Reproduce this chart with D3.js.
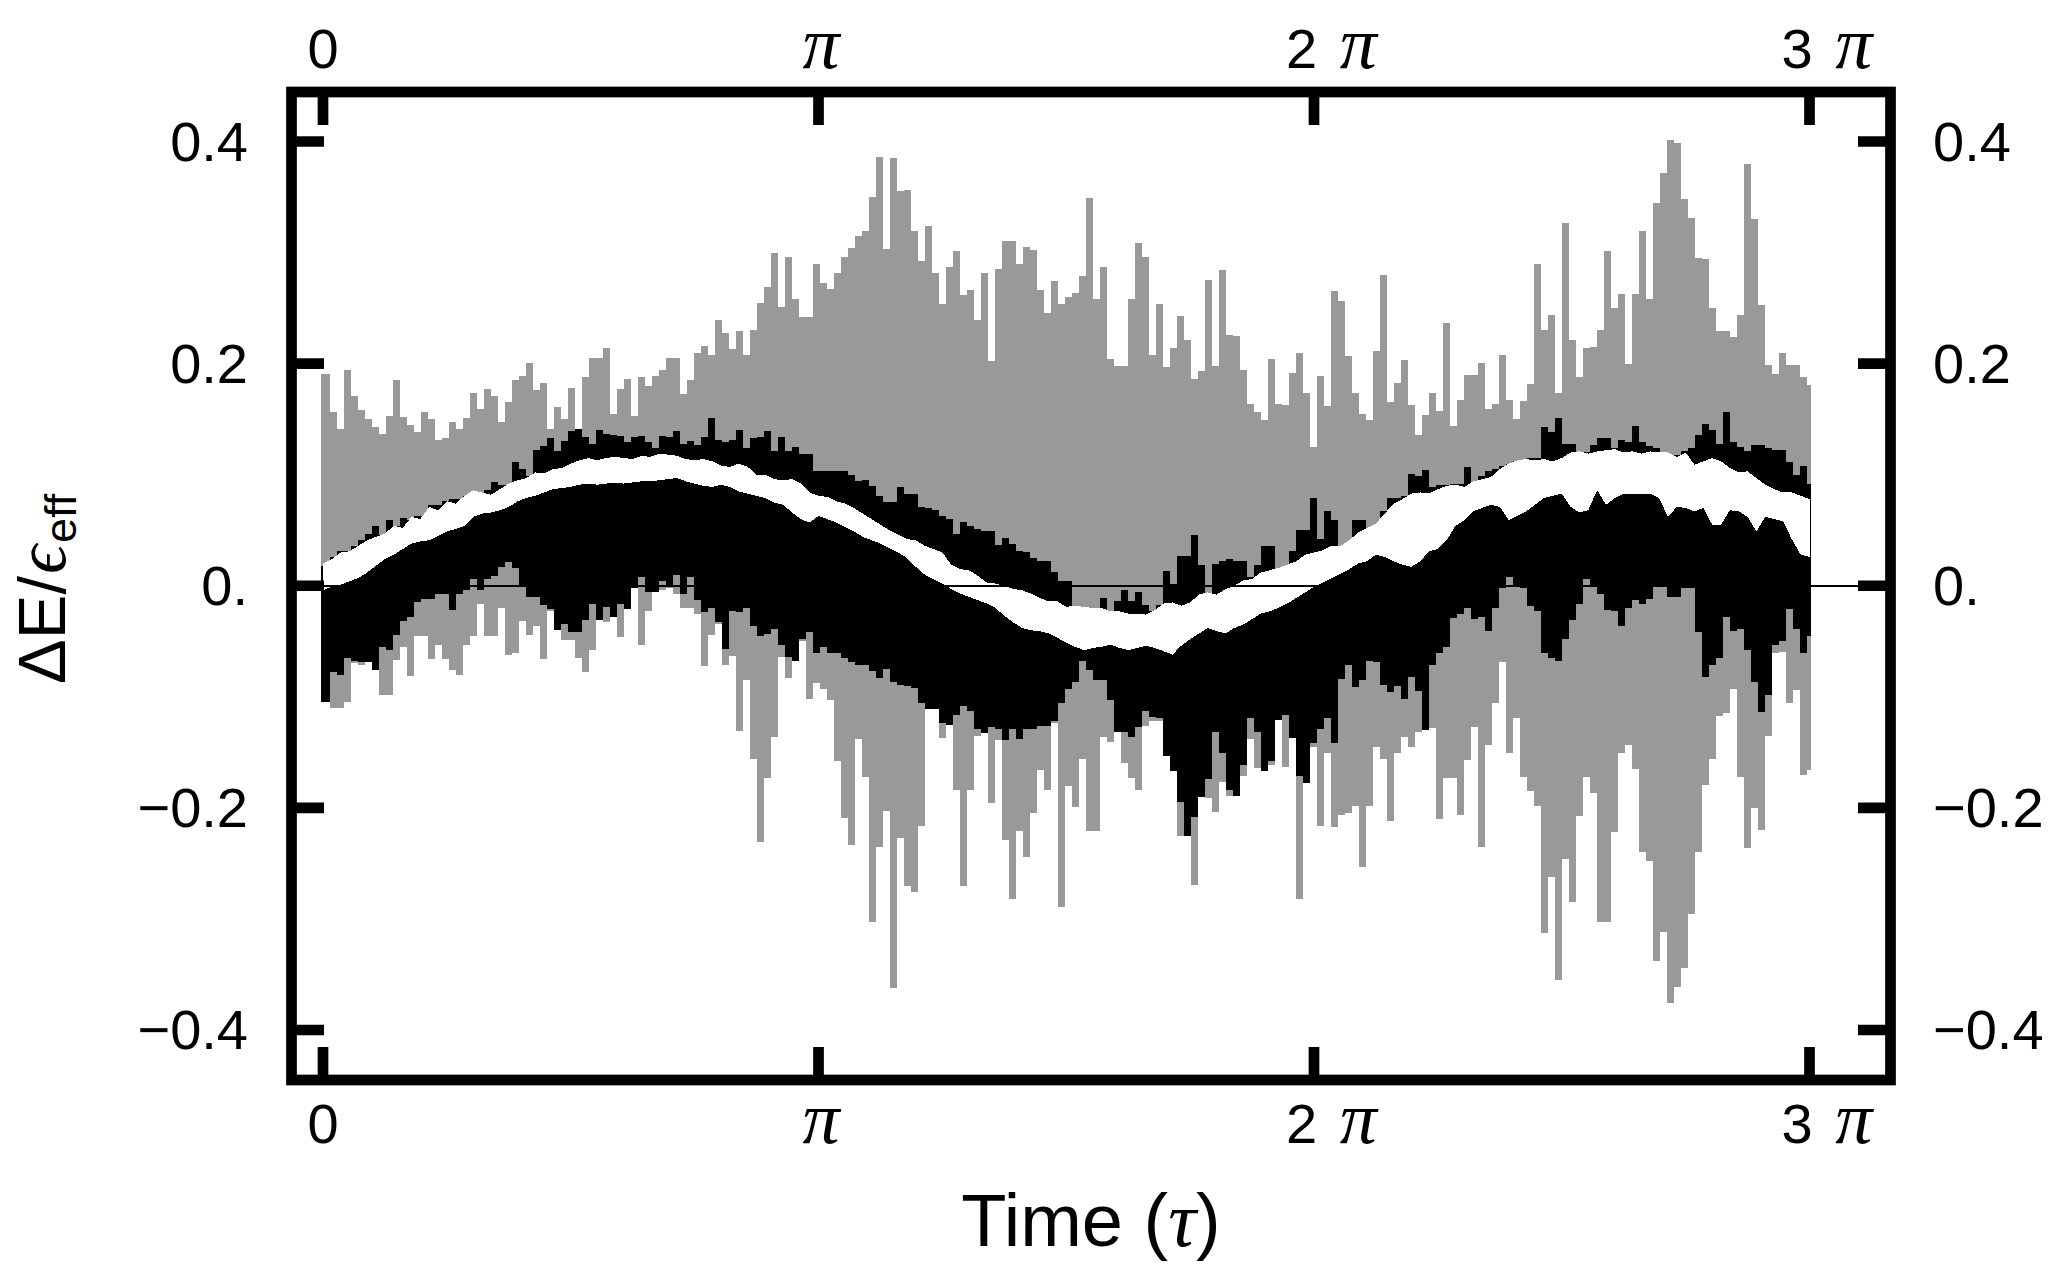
<!DOCTYPE html>
<html><head><meta charset="utf-8">
<script src="https://cdn.jsdelivr.net/npm/d3@7"></script>
<style>html,body{margin:0;padding:0;background:#fff}svg{display:block}
text{font-family:"Liberation Sans",Arial,sans-serif;fill:#000}
.g{font-family:"Liberation Serif",serif;font-style:italic}</style></head>
<body><svg id="c" width="2072" height="1286"></svg>
<script>
const yTicks=[0.4,0.2,0,-0.2,-0.4];
const yLabels=["0.4","0.2","0.","\u22120.2","\u22120.4"];
const xTicks=[0,Math.PI,2*Math.PI,3*Math.PI];
const xLabelsNum=["0","","2 ","3 "];
const greyTop=[.191,.156,.141,.194,.171,.158,.150,.143,.137,.153,
.185,.152,.145,.138,.156,.150,.131,.133,.147,.141,
.151,.174,.159,.177,.171,.147,.165,.185,.189,.201,
.176,.183,.141,.161,.150,.178,.141,.188,.205,.205,
.214,.155,.177,.186,.153,.188,.180,.189,.194,.205,
.205,.173,.185,.210,.216,.208,.239,.228,.213,.229,
.208,.230,.255,.269,.300,.251,.296,.258,.242,.242,
.290,.273,.267,.282,.296,.304,.315,.319,.350,.386,
.303,.385,.355,.356,.319,.292,.324,.282,.254,.287,
.301,.262,.266,.239,.282,.202,.285,.310,.310,.290,
.305,.302,.266,.246,.274,.254,.260,.264,.279,.349,
.258,.287,.204,.198,.198,.258,.309,.296,.208,.254,
.197,.214,.243,.221,.186,.193,.275,.198,.284,.226,
.225,.194,.164,.156,.149,.204,.164,.163,.192,.210,
.174,.125,.189,.162,.265,.256,.207,.174,.155,.149,
.211,.280,.165,.183,.203,.163,.136,.154,.174,.157,
.237,.144,.167,.190,.190,.201,.159,.164,.208,.167,
.150,.166,.182,.290,.230,.244,.174,.327,.221,.188,
.214,.215,.230,.301,.250,.263,.200,.263,.319,.258,
.345,.372,.401,.399,.348,.331,.295,.294,.250,.229,
.229,.224,.244,.380,.330,.253,.199,.191,.210,.199,
.199,.188,.181];
const greyBottom=[-.081,-.110,-.110,-.105,-.070,-.071,-.069,-.076,-.098,-.098,
-.067,-.055,-.081,-.045,-.045,-.066,-.053,-.066,-.076,-.080,
-.053,-.045,-.016,-.045,-.045,-.020,-.062,-.061,-.032,-.044,
-.036,-.066,-.023,-.040,-.049,-.049,-.065,-.078,-.058,-.027,
-.033,-.028,-.046,-.020,-.002,-.053,-.023,-.004,-.004,-.002,
-.007,-.020,-.020,-.025,-.072,-.044,-.034,-.071,-.063,-.131,
-.085,-.156,-.231,-.173,-.136,-.064,-.083,-.068,-.050,-.102,
-.088,-.093,-.103,-.158,-.209,-.233,-.138,-.172,-.303,-.235,
-.203,-.362,-.227,-.270,-.276,-.216,-.110,-.110,-.137,-.124,
-.184,-.270,-.184,-.135,-.133,-.196,-.139,-.229,-.282,-.221,
-.244,-.205,-.166,-.184,-.124,-.289,-.180,-.199,-.156,-.221,
-.221,-.136,-.141,-.132,-.160,-.173,-.184,-.126,-.122,-.122,
-.153,-.167,-.225,-.225,-.269,-.190,-.191,-.204,-.177,-.189,
-.189,-.171,-.138,-.164,-.167,-.161,-.121,-.163,-.137,-.282,
-.178,-.145,-.216,-.151,-.217,-.206,-.205,-.198,-.253,-.198,
-.145,-.156,-.212,-.151,-.136,-.145,-.132,-.130,-.128,-.210,
-.173,-.173,-.206,-.157,-.127,-.235,-.143,-.106,-.069,-.151,
-.119,-.172,-.185,-.198,-.313,-.262,-.355,-.246,-.285,-.207,
-.172,-.187,-.303,-.303,-.222,-.151,-.143,-.165,-.240,-.248,
-.338,-.312,-.376,-.361,-.344,-.296,-.240,-.179,-.156,-.117,
-.115,-.093,-.172,-.236,-.200,-.220,-.135,-.061,-.060,-.106,
-.094,-.170,-.166];
const blackTop=[.018,.026,.031,.031,.036,.041,.047,.054,.046,.059,
.054,.061,.059,.063,.063,.073,.073,.076,.078,.078,
.081,.081,.081,.086,.093,.091,.091,.111,.105,.099,
.122,.126,.133,.121,.130,.139,.141,.134,.128,.140,
.137,.136,.135,.129,.134,.135,.129,.124,.135,.134,
.139,.128,.130,.127,.134,.151,.131,.129,.131,.140,
.124,.133,.134,.139,.121,.134,.121,.125,.119,.119,
.103,.103,.103,.103,.103,.100,.094,.095,.090,.081,
.075,.075,.089,.083,.083,.071,.070,.068,.063,.060,
.047,.057,.054,.051,.049,.049,.037,.043,.038,.031,
.030,.025,.022,.022,.012,.004,.004,-.027,-.027,-.027,
-.027,-.011,-.023,-.014,-.004,-.014,-.006,-.017,-.023,-.017,
.013,.002,.027,.027,.046,.019,-.007,.020,.022,.024,
.022,.022,.008,.019,.036,.036,.005,.005,.031,.050,
.050,.079,.042,.067,.059,.031,.038,.059,.059,.047,
.041,.067,.079,.079,.081,.101,.099,.104,.089,.091,
.091,.092,.092,.107,.092,.099,.103,.105,.108,.110,
.112,.113,.115,.115,.143,.138,.151,.128,.128,.118,
.120,.127,.133,.133,.124,.131,.129,.144,.129,.126,
.124,.118,.118,.118,.121,.124,.136,.146,.140,.128,
.156,.129,.125,.121,.127,.127,.124,.122,.122,.111,
.100,.108,.092];
const blackBottom=[-.105,-.078,-.080,-.065,-.068,-.069,-.069,-.076,-.055,-.058,
-.044,-.032,-.028,-.015,-.012,-.012,-.007,-.007,-.022,-.007,
-.004,.006,-.004,.006,.009,.017,.021,.016,-.001,-.010,
-.010,-.017,-.021,-.040,-.034,-.042,-.042,-.031,-.016,-.031,
-.019,-.028,-.016,-.021,-.002,.008,-.006,-.006,.004,0,
.010,-.007,.008,-.013,-.024,-.020,-.033,-.057,-.023,-.024,
-.020,-.036,-.045,-.043,-.039,-.053,-.064,-.068,-.048,-.042,
-.061,-.055,-.061,-.061,-.065,-.069,-.071,-.071,-.077,-.083,
-.075,-.087,-.089,-.090,-.092,-.106,-.111,-.111,-.124,-.125,
-.116,-.108,-.113,-.129,-.133,-.127,-.129,-.139,-.129,-.138,
-.129,-.129,-.126,-.126,-.122,-.106,-.093,-.087,-.068,-.076,
-.085,-.085,-.103,-.132,-.132,-.136,-.127,-.113,-.118,-.119,
-.153,-.167,-.195,-.225,-.208,-.190,-.174,-.132,-.151,-.184,
-.189,-.161,-.119,-.132,-.167,-.158,-.121,-.116,-.137,-.171,
-.178,-.142,-.129,-.119,-.142,-.084,-.071,-.091,-.085,-.068,
-.069,-.089,-.096,-.090,-.102,-.082,-.095,-.130,-.071,-.061,
-.055,-.029,-.025,-.020,-.030,-.028,-.041,-.020,-.002,.008,
.001,-.002,-.018,-.023,-.061,-.065,-.068,-.048,-.031,-.016,
.006,0,-.007,-.022,-.023,-.036,-.020,-.013,-.016,-.012,
0,0,-.010,-.010,-.002,-.002,-.042,-.082,-.071,-.065,
-.028,-.041,-.039,-.058,-.087,-.114,-.098,-.053,-.050,-.021,
-.039,-.061,-.045];
const whiteTop=[.020,.024,.030,.031,.036,.041,.044,.047,.054,.052,.062,.060,.071,.068,.076,.074,.081,.086,.084,.082,
.087,.092,.095,.097,.102,.101,.105,.106,.110,.113,.115,.113,.115,.116,.115,.114,.117,.116,.119,.118,
.117,.114,.113,.114,.112,.108,.107,.110,.107,.100,.100,.096,.095,.096,.092,.084,.081,.080,.076,.074,
.070,.065,.060,.055,.050,.046,.042,.041,.036,.033,.030,.019,.015,.014,.009,.003,.002,.000,-.003,-.004,
-.007,-.011,-.014,-.014,-.019,-.018,-.019,-.020,-.020,-.023,-.023,-.025,-.025,-.026,-.022,-.016,-.015,-.018,-.015,-.008,
-.006,-.008,-.003,.000,.005,.006,.012,.014,.016,.019,.022,.028,.030,.032,.036,.036,.041,.048,.052,.056,
.065,.074,.078,.083,.084,.083,.087,.090,.091,.089,.094,.096,.098,.105,.110,.113,.114,.113,.114,.112,
.115,.120,.121,.119,.121,.122,.123,.120,.121,.119,.121,.120,.120,.116,.120,.109,.112,.115,.112,.106,
.102,.103,.097,.091,.087,.084,.084,.081,.078];
const whiteBottom=[-.004,-.001,.001,.004,.007,.012,.018,.024,.028,.033,.038,.040,.041,.045,.049,.051,.054,.062,.065,.066,
.068,.071,.076,.079,.081,.084,.087,.088,.089,.091,.092,.091,.092,.093,.092,.093,.094,.094,.095,.096,
.097,.094,.092,.090,.089,.091,.089,.085,.083,.081,.079,.075,.073,.066,.060,.057,.063,.060,.057,.053,
.049,.044,.041,.038,.034,.030,.025,.017,.010,.006,.002,-.003,-.007,-.010,-.013,-.016,-.020,-.027,-.033,-.038,
-.040,-.041,-.043,-.047,-.051,-.055,-.058,-.056,-.055,-.053,-.056,-.058,-.056,-.054,-.056,-.059,-.062,-.054,-.048,-.043,
-.038,-.041,-.043,-.038,-.035,-.030,-.025,-.023,-.020,-.016,-.011,-.006,-.001,.003,.007,.011,
.015,.020,.022,.028,.026,.022,.019,.017,.022,.031,.033,.041,.054,.059,.067,.070,.073,.071,.059,.063,
.067,.073,.079,.081,.083,.071,.066,.068,.086,.073,.079,.083,.083,.083,.083,.079,.062,.071,.070,.067,
.070,.055,.055,.068,.067,.062,.049,.062,.060,.058,.042,.028,.026];

const svg=d3.select("#c");
const x=d3.scaleLinear().domain([0,3*Math.PI]).range([323,1809.5]);
const y=d3.scaleLinear().domain([-0.4,0.4]).range([1030,141.5]);
const N=greyTop.length, dt=3*Math.PI*7/1486.5;
const pad=0.012;
const edge=d3.range(N+1).map(i=>i===0?-pad:(i===N?3*Math.PI+pad:i*dt));
function stepBand(lo,hi,fill){
  const pts=d3.range(N+1).map(i=>({t:edge[i],lo:lo[Math.min(i,N-1)],hi:hi[Math.min(i,N-1)]}));
  svg.append("path").datum(pts)
    .attr("d",d3.area().curve(d3.curveStepAfter).x(d=>x(d.t)).y0(d=>y(d.lo)).y1(d=>y(d.hi)))
    .attr("fill",fill).attr("shape-rendering","crispEdges");
}
stepBand(greyBottom,greyTop,"#999999");
stepBand(blackBottom,blackTop,"#000000");
const tOf=(arr,i)=>3*Math.PI*i/(arr.length-1);
const whitePoly=whiteTop.map((v,i)=>[x(tOf(whiteTop,i)),y(v)])
  .concat(whiteBottom.map((v,i)=>[x(tOf(whiteBottom,i)),y(v)]).reverse());
svg.append("path").attr("d",d3.line()(whitePoly)+"Z")
  .attr("fill","#fff").attr("shape-rendering","crispEdges");

svg.append("line").attr("x1",x(0)).attr("x2",1858).attr("y1",y(0)).attr("y2",y(0))
  .attr("stroke","#000").attr("stroke-width",2).attr("shape-rendering","crispEdges");

const fr={l:291.5,r:1890.5,t:92,b:1080};
svg.append("rect").attr("x",fr.l).attr("y",fr.t).attr("width",fr.r-fr.l).attr("height",fr.b-fr.t)
  .attr("fill","none").attr("stroke","#000").attr("stroke-width",10.7);
const tk=svg.append("g").attr("stroke","#000").attr("stroke-width",10.7);
xTicks.forEach(t=>{
  tk.append("line").attr("x1",x(t)).attr("x2",x(t)).attr("y1",fr.t).attr("y2",125);
  tk.append("line").attr("x1",x(t)).attr("x2",x(t)).attr("y1",fr.b).attr("y2",1047);
});
yTicks.forEach(v=>{
  tk.append("line").attr("y1",y(v)).attr("y2",y(v)).attr("x1",fr.l).attr("x2",324);
  tk.append("line").attr("y1",y(v)).attr("y2",y(v)).attr("x1",fr.r).attr("x2",1858);
});

const fs=56, piFs=74;
yTicks.forEach((v,i)=>{
  svg.append("text").attr("x",248).attr("y",y(v)+19).attr("text-anchor","end").attr("font-size",fs).text(yLabels[i]);
  svg.append("text").attr("x",1933).attr("y",y(v)+19).attr("font-size",fs).text(yLabels[i]);
});
[68,1143].forEach(by=>{
  xTicks.forEach((t,i)=>{
    const n=xLabelsNum[i];
    const tx=svg.append("text").attr("y",by).attr("font-size",fs);
    if(i===0){tx.attr("x",x(t)).attr("text-anchor","middle").text(n);return;}
    tx.attr("x",i===1?x(t)-16:x(t)-28);
    if(n)tx.append("tspan").text(n);
    tx.append("tspan").attr("class","g").attr("font-size",piFs).attr("dx",n?7:0).text("\u03c0");
  });
});
const xt=svg.append("text").attr("x",1091).attr("y",1246).attr("text-anchor","middle").attr("font-size",74);
xt.append("tspan").text("Time (");
xt.append("tspan").attr("class","g").attr("font-size",78).text("\u03c4");
xt.append("tspan").text(")");
const yt=svg.append("text").attr("transform","translate(65,684) rotate(-90)").attr("font-size",67);
yt.append("tspan").text("\u0394E/");
yt.append("tspan").attr("class","g").attr("font-size",72).attr("dx",2).text("\u03f5");
yt.append("tspan").attr("font-size",45).attr("dx",2).attr("dy",11).text("eff");
</script></body></html>
